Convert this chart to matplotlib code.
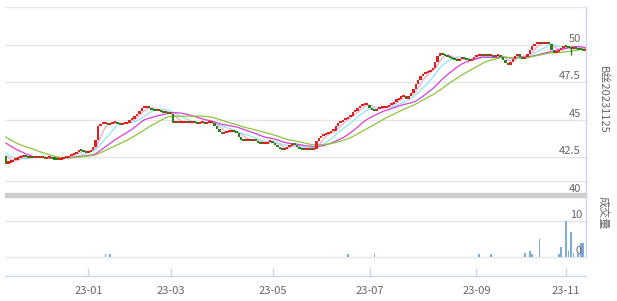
import numpy as np
import pandas as pd

import matplotlib
import matplotlib.pyplot as plt

from matplotlib.lines import Line2D
from matplotlib.patches import Rectangle
from matplotlib.transforms import ScaledTranslation

matplotlib.use('Agg')

plt.rcParams['font.family'] = ['Noto Sans CJK SC', 'DejaVu Sans']

# closes before the visible window (only used to seed the moving averages)
history = [
    45.3, 45.25, 45.1, 44.95, 44.8, 44.6, 44.45, 44.3, 44.2, 43.85,
    44.3, 44.3, 44.25, 44.2, 44.15, 44.1, 44.05, 44.0, 43.9, 43.75,
    43.5, 43.3, 43.0, 42.7, 42.5,
    42.8, 42.75, 42.7, 42.62,
]

# daily closes, one per trading day shown
closes = [
    42.13, 42.2,
    42.25, 42.35, 42.4, 42.5, 42.55, 42.6,
    42.55, 42.5, 42.55, 42.5, 42.5, 42.55, 42.5, 42.5, 42.45, 42.5, 42.5, 42.45,
    42.4, 42.35,
    42.4, 42.45, 42.5, 42.5,
    42.6, 42.7, 42.75, 42.9, 43.0,
    42.95, 42.9, 42.85, 42.9,
    43.0, 43.2,
    43.7, 44.6, 44.75,
    44.75, 44.75, 44.7, 44.75, 44.8,
    44.85, 44.75, 44.7, 44.75, 44.75, 44.8,
    45.0, 45.1, 45.3, 45.45, 45.6, 45.8,
    45.85, 45.85, 45.8,
    45.7, 45.65, 45.6, 45.6, 45.55, 45.5, 45.5, 45.45, 45.45,
    44.85,
    44.85, 44.8, 44.8, 44.8, 44.85, 44.8, 44.8, 44.85, 44.8, 44.75, 44.8, 44.8, 44.75, 44.8, 44.8, 44.8,
    44.6, 44.4, 44.2, 44.1,
    44.15, 44.2, 44.25, 44.25, 44.2, 44.15,
    43.9, 43.7, 43.65, 43.65, 43.7, 43.65, 43.7, 43.65,
    43.5, 43.4, 43.4, 43.45, 43.55, 43.6,
    43.5, 43.35, 43.2, 43.1, 43.05, 43.1,
    43.2, 43.3, 43.4, 43.35, 43.2, 43.1, 43.05,
    43.0, 43.05, 43.1, 43.05, 43.1,
    43.65, 43.8, 43.95, 44.05, 44.1, 44.15, 44.3, 44.3, 44.6, 44.8,
    44.9, 45.0, 45.1, 45.2, 45.3, 45.55, 45.6, 45.8, 45.95, 46.0, 46.05, 46.05,
    45.8, 45.7, 45.65, 45.75, 45.8, 45.85, 45.85, 45.9, 46.0,
    46.1, 46.25, 46.35, 46.45, 46.55, 46.55, 46.45, 46.6,
    46.8, 47.1, 47.4, 47.7, 47.95, 48.1, 48.15, 48.2, 48.35, 48.5,
    48.9, 49.3, 49.5, 49.35, 49.25, 49.2, 49.15, 49.05, 49.0, 48.97,
    49.05, 49.1, 49.05, 49.0, 48.95, 49.1, 49.2, 49.25, 49.3, 49.3,
    49.25, 49.3, 49.25, 49.25, 49.2, 49.25, 49.25, 49.2, 49.0, 48.8, 48.7,
    48.9, 49.1, 49.3, 49.4, 49.2, 49.1, 49.2, 49.4, 49.7, 49.95, 50.1,
    50.1, 50.1, 50.05, 50.1, 50.1, 50.05, 49.7, 49.45, 49.55, 49.65, 49.8, 49.9,
    49.85, 49.8, 49.75, 49.8, 49.75, 49.7, 49.65, 49.6, 49.6,
]

# the one visible shadow
wick_day = 233
wick_low = 49.3
wick_high = 49.9

# volume (only the days with trades)
vol_days = [41, 43, 141, 152, 195, 200, 214, 216, 217, 220, 228, 229, 231, 232, 233, 234, 236, 237, 238]
vol_values = [0.9, 0.9, 0.8, 0.8, 0.8, 0.8, 1.1, 1.7, 0.9, 4.9, 0.9, 2.9, 10.0, 1.7, 7.0, 1.1, 0.9, 4.0, 4.0]

tick_days = [34, 68, 110, 150, 194, 231]
tick_labels = ['23-01', '23-03', '23-05', '23-07', '23-09', '23-11']

price_ticks = [50, 47.5, 45, 42.5, 40]
price_tick_labels = ['50', '47.5', '45', '42.5', '40']
vol_ticks = [10, 0]

ma_periods = [5, 10, 20, 30]
ma_colours = ['#f5a6cc', '#8fe6f2', '#d83fd8', '#8cc43c']

up_colour = '#e0201a'
down_colour = '#2f7d18'
grid_colour = '#e6e6e6'
axis_colour = '#ccd6eb'
text_colour = '#666666'

W, H = 617, 301
fig = plt.figure(figsize=(W / 100, H / 100), dpi=100)

ax = fig.add_axes([5 / W, 1 - 195 / H, 581 / W, 188 / H])
axv = fig.add_axes([5 / W, 1 - 276 / H, 581 / W, 76 / H])

n = len(closes)
days = np.arange(n)
closes_arr = np.array(closes)
opens_arr = np.concatenate([[history[-1]], closes_arr[:-1]])

full = pd.Series(history + closes)
for period, colour in zip(ma_periods, ma_colours):
    ma = full.rolling(period).mean().to_numpy()[-n:]
    ax.plot(days, ma, color=colour, lw=0.9, zorder=2)

bottoms = np.minimum(opens_arr, closes_arr)
heights = np.maximum(np.abs(closes_arr - opens_arr), 0.14)
colours = [up_colour if c >= o else down_colour for o, c in zip(opens_arr, closes_arr)]
ax.vlines(wick_day, wick_low, wick_high, color=down_colour, lw=1.0, zorder=3)
ax.bar(days, heights, bottom=bottoms - 0.04, width=1.0, color=colours, linewidth=0, zorder=3)

ax.set_xlim(-0.4, n - 0.8)
ax.set_ylim(40, 52.5)
for v in [52.5, 50, 47.5, 45, 42.5, 40.9]:
    ax.axhline(v, color=grid_colour, lw=1.0, zorder=1)
ax.axis('off')

label_shift = ScaledTranslation(0, 6 / 100, fig.dpi_scale_trans)
for v, s in zip(price_ticks, price_tick_labels):
    ax.text(0.991, v, s, transform=ax.get_yaxis_transform() + label_shift,
            ha='right', va='center', fontsize=8, color=text_colour, clip_on=False)

axv.bar(vol_days, vol_values, width=0.7, color='#7faadc', linewidth=0, zorder=3)
axv.set_xlim(-0.4, n - 0.8)
axv.set_ylim(-5.28, 15.83)
for v in vol_ticks:
    axv.axhline(v, color=grid_colour, lw=1.0, zorder=1)
    axv.text(0.993, v, str(v), transform=axv.get_yaxis_transform() + label_shift,
             ha='right', va='center', fontsize=8, color=text_colour)

axv.spines[['top', 'right', 'left']].set_visible(False)
axv.spines['bottom'].set_color(axis_colour)
axv.spines['bottom'].set_linewidth(1.0)
axv.set_yticks([])
axv.set_xticks(tick_days, tick_labels)
axv.tick_params(axis='x', direction='in', length=6, width=1.0, color=axis_colour,
                labelcolor=text_colour, labelsize=8, pad=7)

# separator bar between price and volume panels
fig.patches.append(Rectangle((5 / W, 1 - 197 / H), 581 / W, 4 / H, transform=fig.transFigure,
                             color='#cccccc', zorder=0))
# right border
fig.lines.append(Line2D([586 / W, 586 / W], [1 - 7 / H, 1 - 257 / H], transform=fig.transFigure,
                        color=axis_colour, lw=1.0))

fig.text(603 / W, 1 - 100 / H, 'B丝20231125', rotation=270, ha='center', va='center',
         fontsize=8, color=text_colour)
fig.text(603 / W, 1 - 213 / H, '成交量', rotation=270, ha='center', va='center',
         fontsize=8, color=text_colour)

fig.savefig('out.png', dpi=100)
